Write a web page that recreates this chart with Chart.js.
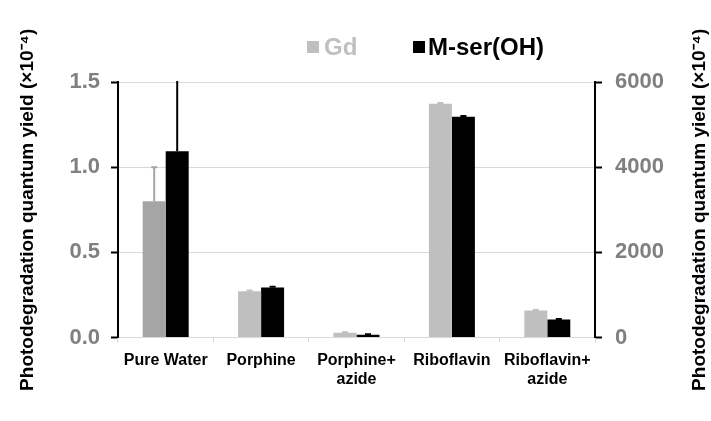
<!DOCTYPE html>
<html>
<head>
<meta charset="utf-8">
<script src="https://cdn.jsdelivr.net/npm/chart.js@4.4.1/dist/chart.umd.min.js"></script>
<style>
  body { margin: 0; background: #fff; }
  #wrap { width: 711px; height: 421px; }
</style>
</head>
<body>
<div id="wrap"><canvas id="myChart" width="711" height="421"></canvas></div>
<script>
// categories + values
const categories = ['Pure Water', 'Porphine', ['Porphine+', 'azide'], 'Riboflavin', ['Riboflavin+', 'azide']];

// left axis (0 - 1.5)
const gdLeft = [0.80, 0.272, 0.028, null, null];
const mserLeft = [1.094, 0.294, 0.016, null, null];
const gdLeftErr = [0.20, 0.004, 0.004, null, null];
const mserLeftErr = [0.45, 0.005, 0.004, null, null];

// right axis (0 - 6000)
const gdRight = [null, null, null, 5490, 635];
const mserRight = [null, null, null, 5184, 424];
const gdRightErr = [null, null, null, 15, 15];
const mserRightErr = [null, null, null, 20, 15];

const leftTicks = [0, 0.5, 1.0, 1.5];
const rightTicks = [0, 2000, 4000, 6000];

const FONT = 'Arial, "Liberation Sans", Helvetica, sans-serif';
const TITLE = 'Photodegradation quantum yield (×10⁻⁴)';
const errors = [gdLeftErr, mserLeftErr, gdRightErr, mserRightErr];

const errorBars = {
  id: 'errorBars',
  afterDatasetsDraw(chart) {
    const ctx = chart.ctx;
    const area = chart.chartArea;
    ctx.save();
    ctx.beginPath();
    ctx.rect(area.left, area.top - 1, area.right - area.left, area.bottom - area.top + 1);
    ctx.clip();
    chart.data.datasets.forEach((ds, i) => {
      const meta = chart.getDatasetMeta(i);
      const scale = chart.scales[meta.yAxisID];
      meta.data.forEach((bar, j) => {
        const v = ds.data[j];
        const e = errors[i][j];
        if (v == null || e == null) return;
        const yTop = scale.getPixelForValue(v + e);
        ctx.strokeStyle = bar.options.backgroundColor;
        ctx.lineWidth = 2;
        ctx.beginPath();
        ctx.moveTo(bar.x, bar.y);
        ctx.lineTo(bar.x, yTop);
        ctx.moveTo(bar.x - 3, yTop);
        ctx.lineTo(bar.x + 3, yTop);
        ctx.stroke();
      });
    });
    ctx.restore();
  }
};

// legend + right axis title (reads bottom-to-top like the left one)
const extras = {
  id: 'extras',
  afterDraw(chart) {
    const ctx = chart.ctx;
    const area = chart.chartArea;
    ctx.save();
    ctx.font = 'bold 24px ' + FONT;
    ctx.textBaseline = 'middle';
    ctx.textAlign = 'left';
    ctx.fillStyle = '#bfbfbf';
    ctx.fillRect(307, 41, 12, 12);
    ctx.fillText('Gd', 324, 48);
    ctx.fillStyle = '#000';
    ctx.fillRect(413, 41, 12, 12);
    ctx.fillText('M-ser(OH)', 428, 48);

    ctx.translate(700, (area.top + area.bottom) / 2);
    ctx.rotate(-Math.PI / 2);
    ctx.textAlign = 'center';
    ctx.font = 'bold 19px ' + FONT;
    ctx.fillText(TITLE, 0, 0);
    ctx.restore();
  }
};

const tickFont = { family: FONT, size: 22, weight: 'bold' };

new Chart(document.getElementById('myChart'), {
  type: 'bar',
  data: {
    labels: categories,
    datasets: [
      { label: 'Gd', data: gdLeft, yAxisID: 'y', backgroundColor: ['#a5a5a5', '#bfbfbf', '#bfbfbf', '#bfbfbf', '#bfbfbf'] },
      { label: 'M-ser(OH)', data: mserLeft, yAxisID: 'y', backgroundColor: '#000' },
      { label: 'Gd', data: gdRight, yAxisID: 'y2', backgroundColor: '#bfbfbf' },
      { label: 'M-ser(OH)', data: mserRight, yAxisID: 'y2', backgroundColor: '#000' }
    ]
  },
  options: {
    responsive: false,
    animation: false,
    skipNull: true,
    categoryPercentage: 0.482,
    barPercentage: 1.0,
    layout: { padding: { top: 82, bottom: 24, left: 0, right: 0 } },
    plugins: { legend: { display: false }, tooltip: { enabled: false } },
    scales: {
      x: {
        grid: { drawOnChartArea: false, color: '#d9d9d9', tickLength: 5, offset: true },
        border: { color: '#d9d9d9', width: 1 },
        ticks: { color: '#000', font: { family: FONT, size: 16, weight: 'bold' }, padding: 8, maxRotation: 0, autoSkip: false }
      },
      y: {
        position: 'left',
        min: leftTicks[0],
        max: leftTicks[leftTicks.length - 1],
        afterBuildTicks: s => { s.ticks = leftTicks.map(v => ({ value: v })); },
        ticks: { color: '#808080', font: tickFont, padding: 11, callback: v => v.toFixed(1) },
        grid: { color: '#d9d9d9', tickColor: '#000', tickLength: 7, lineWidth: 1, tickWidth: 2 },
        border: { color: '#000', width: 2 },
        title: { display: true, text: TITLE, color: '#000', font: { family: FONT, size: 19, weight: 'bold' }, padding: { top: 16, bottom: 0 } },
        afterFit: s => { s.width = 118; }
      },
      y2: {
        position: 'right',
        min: rightTicks[0],
        max: rightTicks[rightTicks.length - 1],
        afterBuildTicks: s => { s.ticks = rightTicks.map(v => ({ value: v })); },
        ticks: { color: '#808080', font: tickFont, padding: 13, callback: v => String(v) },
        grid: { drawOnChartArea: false, tickColor: '#000', tickLength: 7, tickWidth: 2 },
        border: { color: '#000', width: 2 },
        afterFit: s => { s.width = 116; }
      }
    }
  },
  plugins: [errorBars, extras]
});
</script>
</body>
</html>
